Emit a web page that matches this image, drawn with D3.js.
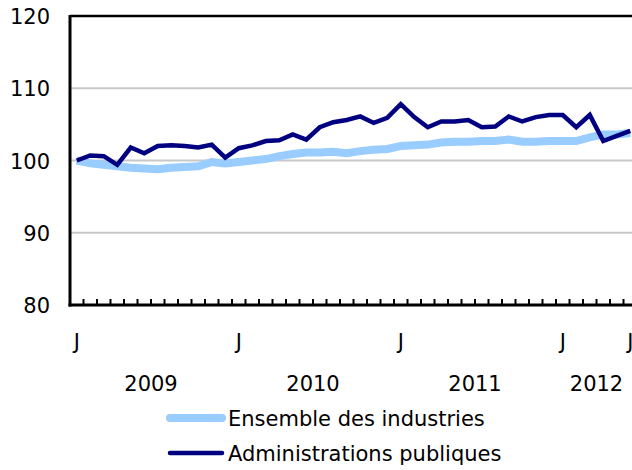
<!DOCTYPE html>
<html><head><meta charset="utf-8">
<script src="https://cdn.jsdelivr.net/npm/d3@7/dist/d3.min.js"></script>
<style>body{margin:0;background:#fff}svg{display:block}</style>
</head><body>
<svg id="c" width="632" height="470" style="font-family:'DejaVu Sans'"></svg>
<script>
const months = d3.range(42); // Jan 2009 .. Jun 2012
const monthTickLabels = ["J","","","","","","","","","","","","J","","","","","","","","","","","","J","","","","","","","","","","","","J","","","","","J"];
const years = ["2009","2010","2011","2012"];
const yearMonthCounts = [12,12,12,6];
const ensemble = [100.0,99.6,99.4,99.2,99.0,98.9,98.8,99.0,99.1,99.2,99.8,99.6,99.8,100.0,100.2,100.6,100.9,101.1,101.1,101.2,101.0,101.3,101.5,101.6,102.0,102.1,102.2,102.5,102.6,102.6,102.7,102.7,102.9,102.6,102.6,102.7,102.7,102.7,103.2,103.6,103.6,103.8];
const admin = [100.0,100.7,100.6,99.4,101.8,101.0,102.0,102.1,102.0,101.8,102.2,100.4,101.7,102.1,102.7,102.8,103.6,102.9,104.6,105.3,105.6,106.1,105.2,105.9,107.8,106.0,104.6,105.4,105.4,105.6,104.6,104.7,106.1,105.4,106.0,106.3,106.3,104.6,106.3,102.7,103.4,104.1];
const yTicks = [80,90,100,110,120];
const seriesNames = ["Ensemble des industries","Administrations publiques"];
const colors = ["#99ccff","#000080"];
const widths = [8,4.5];

const svg = d3.select("#c");
const L = 70, T = 16, B = 305;
const x = d3.scaleBand().domain(months).range([L, L + 42*13.5]).paddingInner(0).paddingOuter(0);
const y = d3.scaleLinear().domain([80,120]).range([B, T]);
const FS = 21;

svg.append("g").selectAll("line").data(yTicks.filter(v=>v>80 && v<120)).join("line")
  .attr("x1", L).attr("x2", 632).attr("y1", d=>y(d)).attr("y2", d=>y(d))
  .attr("stroke", "#c8c8c8").attr("stroke-width", 2);
svg.append("line").attr("x1", L).attr("x2", 632).attr("y1", y(120)).attr("y2", y(120)).attr("stroke","#000").attr("stroke-width",2.5);

svg.append("g").selectAll("text").data(yTicks).join("text")
  .attr("x", 50).attr("y", d=>y(d)+8).attr("text-anchor","end").attr("font-size",FS).attr("font-family","DejaVu Sans").text(d=>d);

const series = [ensemble, admin];
const line = d3.line().x((d,i)=>x(i)+x.bandwidth()/2).y(d=>y(d));
series.forEach((s,k)=>{
  svg.append("path").datum(s).attr("d", line).attr("fill","none")
    .attr("stroke", colors[k]).attr("stroke-width", widths[k]).attr("stroke-linejoin","miter");
});

svg.append("line").attr("x1", L).attr("x2", L).attr("y1", T-1).attr("y2", B+1.5).attr("stroke","#000").attr("stroke-width",3);
svg.append("line").attr("x1", L-1.5).attr("x2", 632).attr("y1", B).attr("y2", B).attr("stroke","#000").attr("stroke-width",3);
svg.append("g").selectAll("line").data(months.concat([42])).join("line")
  .attr("x1", d=> d<42 ? x(d) : x(41)+x.bandwidth()).attr("x2", d=> d<42 ? x(d) : x(41)+x.bandwidth())
  .attr("y1", B).attr("y2", B-6).attr("stroke","#000").attr("stroke-width",2);
svg.append("g").selectAll("text").data(months).join("text")
  .attr("x", d=>x(d)+x.bandwidth()/2).attr("y", 349).attr("text-anchor","middle").attr("font-size",FS).attr("font-family","DejaVu Sans")
  .text(d=>monthTickLabels[d]);
let start = 0;
years.forEach((yr,i)=>{
  const n = yearMonthCounts[i];
  const cx = (x(start) + x(start+n-1) + x.bandwidth())/2;
  svg.append("text").attr("x", cx).attr("y", 391).attr("text-anchor","middle").attr("font-size",FS).attr("font-family","DejaVu Sans").text(yr);
  start += n;
});
seriesNames.forEach((n,k)=>{
  const ly = 418 + k*35;
  svg.append("line").attr("x1",170).attr("x2",222).attr("y1",ly).attr("y2",ly)
    .attr("stroke",colors[k]).attr("stroke-width",widths[k]).attr("stroke-linecap","round");
  svg.append("text").attr("x",228).attr("y",ly+8).attr("font-size",FS).attr("font-family","DejaVu Sans").text(n);
});
</script>
</body></html>
